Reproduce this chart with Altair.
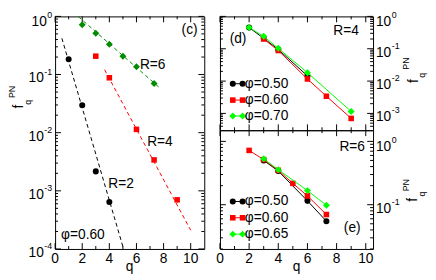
import altair as alt
import pandas as pd

FONT = "Liberation Sans"
BLACK = "#000000"
RED = "#ff0000"
DKGREEN = "#008b00"
LIME = "#00ff00"

# ---------------- panel (c): phi = 0.60 ----------------
c_r2_q = [1, 2, 3, 4]
c_r2_f = [0.183, 0.0296, 0.00216, 0.00064]
c_r4_q = [3, 4, 6, 7.3, 9]
c_r4_f = [0.207, 0.088, 0.0114, 0.0034, 0.0007]
c_r6_q = [2, 3, 4, 5, 6, 7.3]
c_r6_f = [0.72, 0.515, 0.333, 0.207, 0.136, 0.070]
c_fit2_q = [0.5, 5.05]
c_fit2_f = [0.42, 1e-4]
c_fit4_q = [3.65, 10.0]
c_fit4_f = [0.121, 2.1e-4]
c_fit6_q = [1.7, 7.75]
c_fit6_f = [1.0, 0.058]

# ---------------- panel (d): R = 4 ----------------
d_q50 = [2, 3, 4, 6]
d_f50 = [0.45, 0.21, 0.095, 0.0145]
d_q60 = [3, 4, 6, 7.3, 9]
d_f60 = [0.20, 0.088, 0.0116, 0.0034, 0.0007]
d_q70 = [2, 3, 4, 6, 9]
d_f70 = [0.454, 0.242, 0.103, 0.0182, 0.00115]

# ---------------- panel (e): R = 6 ----------------
e_q50 = [3, 4, 6, 7.3]
e_f50 = [0.50, 0.34, 0.115, 0.055]
e_q60 = [2, 3, 4, 5, 6, 7.3]
e_f60 = [0.72, 0.515, 0.349, 0.217, 0.138, 0.070]
e_q65 = [3, 4, 6, 7.3]
e_f65 = [0.53, 0.357, 0.167, 0.098]

legend_d_labels = ["\u03c6=0.50", "\u03c6=0.60", "\u03c6=0.70"]
legend_e_labels = ["\u03c6=0.50", "\u03c6=0.60", "\u03c6=0.65"]
legend_d_f = [0.00828, 0.00258, 0.000834]
legend_e_f = [0.1125, 0.0622, 0.0343]
legend_sym_q = [0.88, 1.55]
legend_text_q = 1.70

# annotations (data coordinates)
c_notes = {"q": [9.92, 7.2, 7.73, 4.87, 2.05],
           "f": [0.578, 0.145, 0.00695, 0.00132, 1.71e-4],
           "t": ["(c)", "R=6", "R=4", "R=2", "\u03c6=0.60"]}
d_notes = {"q": [1.24, 8.65], "f": [0.194, 0.34], "t": ["(d)", "R=4"]}
e_notes = {"q": [9.07, 9.07], "f": [0.0425, 0.80], "t": ["(e)", "R=6"]}

# tick positions
c_xmaj = [0, 2, 4, 6, 8, 10]
c_xmin = [1, 3, 5, 7, 9]
r_xmaj = [0, 2, 4, 6, 8, 10]
r_xmin = [1, 3, 5, 7, 9]
c_ymaj = [1, 0.1, 0.01, 0.001, 0.0001]
c_yexp = ["0", "-1", "-2", "-3", "-4"]
d_ymaj = [1, 0.1, 0.01, 0.001]
d_yexp = ["0", "-1", "-2", "-3"]
e_ymaj = [1, 0.1]
e_yexp = ["0", "-1"]


def minors(lo_exp, hi_exp, lo, hi):
    vals = []
    for d in range(lo_exp, hi_exp):
        for k in range(2, 10):
            v = k * 10.0 ** d
            if lo <= v <= hi:
                vals.append(v)
    return vals


C_W, C_H = 152, 237
D_W, D_H = 156, 116
E_W, E_H = 156, 121

cx = alt.Scale(domain=[0, 11], nice=False, zero=False)
cy = alt.Scale(type="log", domain=[1e-4, 1], nice=False)
rx = alt.Scale(domain=[0, 10.5], nice=False, zero=False)
dy_ = alt.Scale(type="log", domain=[10 ** -3.52, 1], nice=False)
ey = alt.Scale(type="log", domain=[0.02, 1.5], nice=False)

c_ymin = minors(-4, 0, 1e-4, 1)
d_ymin = minors(-4, 0, 10 ** -3.52, 1)
e_ymin = minors(-2, 1, 0.02, 1.5)


def X(s):
    return alt.X("q:Q", scale=s, axis=None)


def Y(s):
    return alt.Y("f:Q", scale=s, axis=None)


def frame_ticks(sx, sy, W, H, xmaj, xmin, ymaj, ymin):
    out = []
    for vals, L in ((ymaj, 6), (ymin, 3)):
        base = alt.Chart(pd.DataFrame({"f": vals})).mark_rule(color=BLACK, strokeWidth=1)
        out.append(base.encode(y=Y(sy), x=alt.value(0), x2=alt.value(L)))
        out.append(base.encode(y=Y(sy), x=alt.value(W), x2=alt.value(W - L)))
    for vals, L in ((xmaj, 6), (xmin, 3)):
        base = alt.Chart(pd.DataFrame({"q": vals})).mark_rule(color=BLACK, strokeWidth=1)
        out.append(base.encode(x=X(sx), y=alt.value(H), y2=alt.value(H - L)))
        out.append(base.encode(x=X(sx), y=alt.value(0), y2=alt.value(L)))
    return out


def xlabels(sx, H, vals, W):
    return [
        alt.Chart(pd.DataFrame({"q": vals, "t": [str(v) for v in vals]}))
        .mark_text(font=FONT, fontSize=14, align="center", baseline="middle", color=BLACK)
        .encode(x=X(sx), y=alt.value(H + 10), text="t:N"),
        alt.Chart(pd.DataFrame({"t": ["q"]}))
        .mark_text(font=FONT, fontSize=14, align="center", baseline="alphabetic", color=BLACK)
        .encode(x=alt.value(W / 2), y=alt.value(H + 22), text="t:N"),
    ]


def split(vals, exps):
    z = pd.DataFrame({"f": [v for v, e in zip(vals, exps) if e == "0"],
                      "e": [e for e in exps if e == "0"]})
    n = pd.DataFrame({"f": [v for v, e in zip(vals, exps) if e != "0"],
                      "e": [e for e in exps if e != "0"]})
    return z, n


def ylabels_left(sy, vals, exps):
    z, n = split(vals, exps)
    out = []
    for dfl, xten, dten, dexp in ((z, -8.5, 6, -1), (n, -11.5, 4, -3)):
        out.append(alt.Chart(dfl).mark_text(font=FONT, fontSize=14, align="right", baseline="middle",
                                            dy=dten, color=BLACK)
                   .encode(y=Y(sy), x=alt.value(xten), text=alt.value("10")))
        out.append(alt.Chart(dfl).mark_text(font=FONT, fontSize=9, align="right", baseline="middle",
                                            dy=dexp, color=BLACK)
                   .encode(y=Y(sy), x=alt.value(-3), text="e:N"))
    return out


def ylabels_right(sy, W, vals, exps):
    z, n = split(vals, exps)
    out = []
    for dfl, dten, dexp in ((z, 6, -1), (n, 4, -3)):
        out.append(alt.Chart(dfl).mark_text(font=FONT, fontSize=14, align="left", baseline="middle",
                                            dy=dten, color=BLACK)
                   .encode(y=Y(sy), x=alt.value(W + 3), text=alt.value("10")))
        out.append(alt.Chart(dfl).mark_text(font=FONT, fontSize=9, align="left", baseline="middle",
                                            dy=dexp, color=BLACK)
                   .encode(y=Y(sy), x=alt.value(W + 19), text="e:N"))
    return out


def ytitle(px, py):
    # positions of "f", "q", "PN"
    out = []
    for x, y, t, fs in zip(px, py, ["f", "q", "PN"], [14, 9, 9]):
        out.append(alt.Chart(pd.DataFrame({"t": [t]}))
                   .mark_text(font=FONT, fontSize=fs, angle=270, align="center", baseline="middle", color=BLACK)
                   .encode(x=alt.value(x), y=alt.value(y), text="t:N"))
    return out


def notes(sx, sy, d):
    return [alt.Chart(pd.DataFrame(d)).mark_text(font=FONT, fontSize=14, align="center",
                                                 baseline="middle", color=BLACK)
            .encode(x=X(sx), y=Y(sy), text="t:N")]


def series(sx, sy, q, f, color, shape, size, line=True, dash=None):
    dfs = pd.DataFrame({"q": q, "f": f})
    out = []
    if line:
        kw = dict(color=color, strokeWidth=1, clip=True)
        if dash:
            kw["strokeDash"] = dash
        out.append(alt.Chart(dfs).mark_line(**kw).encode(x=X(sx), y=Y(sy)))
    if shape:
        out.append(alt.Chart(dfs).mark_point(shape=shape, filled=True, size=size, color=color,
                                             opacity=1, strokeWidth=0)
                   .encode(x=X(sx), y=Y(sy)))
    return out


def legend(sx, sy, fvals, labels, styles):
    out = []
    for fv, lab, (color, shape, size) in zip(fvals, labels, styles):
        out += series(sx, sy, legend_sym_q, [fv, fv], color, shape, size)
        out.append(alt.Chart(pd.DataFrame({"q": [legend_text_q], "f": [fv], "t": [lab]}))
                   .mark_text(font=FONT, fontSize=14, align="left", baseline="middle", color=BLACK)
                   .encode(x=X(sx), y=Y(sy), text="t:N"))
    return out


STY_BLACK = (BLACK, "circle", 38)
STY_RED = (RED, "square", 32)
STY_LIME = (LIME, "diamond", 50)

# ---- panel c ----
c_layers = frame_ticks(cx, cy, C_W, C_H, c_xmaj, c_xmin, c_ymaj, c_ymin)
c_layers += series(cx, cy, c_fit2_q, c_fit2_f, BLACK, None, 0, dash=[4, 3])
c_layers += series(cx, cy, c_fit4_q, c_fit4_f, RED, None, 0, dash=[4, 3])
c_layers += series(cx, cy, c_fit6_q, c_fit6_f, DKGREEN, None, 0, dash=[4, 3])
c_layers += series(cx, cy, c_r2_q, c_r2_f, BLACK, "circle", 38, line=False)
c_layers += series(cx, cy, c_r4_q, c_r4_f, RED, "square", 32, line=False)
c_layers += series(cx, cy, c_r6_q, c_r6_f, DKGREEN, "diamond", 50, line=False)
c_layers += xlabels(cx, C_H, c_xmaj, C_W)
c_layers += ylabels_left(cy, c_ymaj, c_yexp)
c_layers += ytitle([-36.3, -27.7, -43.5], [92, 87.5, 77])
c_layers += notes(cx, cy, c_notes)
c_chart = alt.layer(*c_layers).properties(width=C_W, height=C_H)

# ---- panel d ----
d_layers = frame_ticks(rx, dy_, D_W, D_H, r_xmaj, r_xmin, d_ymaj, d_ymin)
d_layers += series(rx, dy_, d_q50, d_f50, *STY_BLACK)
d_layers += series(rx, dy_, d_q60, d_f60, *STY_RED)
d_layers += series(rx, dy_, d_q70, d_f70, *STY_LIME)
d_layers += legend(rx, dy_, legend_d_f, legend_d_labels, [STY_BLACK, STY_RED, STY_LIME])
d_layers += ylabels_right(dy_, D_W, d_ymaj, d_yexp)
d_layers += ytitle([D_W + 41.7, D_W + 49.7, D_W + 33.7], [66, 60, 48])
d_layers += notes(rx, dy_, d_notes)
d_chart = alt.layer(*d_layers).properties(width=D_W, height=D_H)

# ---- panel e ----
e_layers = frame_ticks(rx, ey, E_W, E_H, r_xmaj, r_xmin, e_ymaj, e_ymin)
e_layers += series(rx, ey, e_q50, e_f50, *STY_BLACK)
e_layers += series(rx, ey, e_q60, e_f60, *STY_RED)
e_layers += series(rx, ey, e_q65, e_f65, *STY_LIME)
e_layers += legend(rx, ey, legend_e_f, legend_e_labels, [STY_BLACK, STY_RED, STY_LIME])
e_layers += ylabels_right(ey, E_W, e_ymaj, e_yexp)
e_layers += xlabels(rx, E_H, r_xmaj, E_W)
e_layers += ytitle([E_W + 40.7, E_W + 49.7, E_W + 33.7], [71, 65, 56])
e_layers += notes(rx, ey, e_notes)
e_chart = alt.layer(*e_layers).properties(width=E_W, height=E_H)

right = alt.vconcat(d_chart, e_chart, spacing=0, bounds="flush")
chart = alt.hconcat(c_chart, right, spacing=16, bounds="flush").properties(
    padding={"left": 0, "top": 0, "right": 0, "bottom": 0}
).configure_view(stroke=BLACK, strokeWidth=1)

chart.save("out.html", embed_options={"renderer": "svg", "actions": False})
